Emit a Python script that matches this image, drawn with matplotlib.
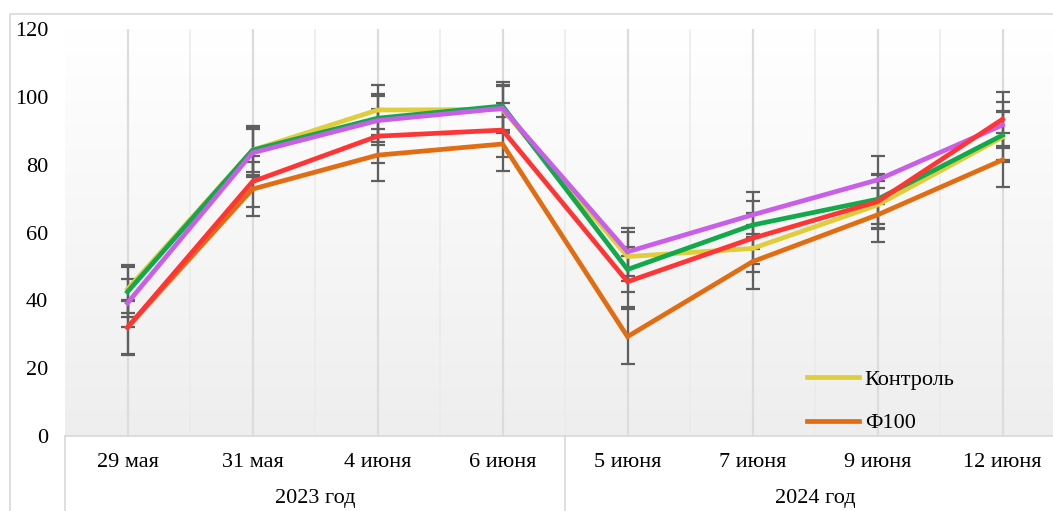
import matplotlib.pyplot as plt
import numpy as np
from matplotlib.patches import Rectangle
import matplotlib.transforms as mtransforms

plt.rcParams['font.family'] = ['Liberation Serif', 'DejaVu Serif']

# Sampling dates, grouped by season
dates = ['29 мая', '31 мая', '4 июня', '6 июня', '5 июня', '7 июня', '9 июня', '12 июня']
years = ['2023 год', '2024 год']

# Series values and their error margins
kontrol = [43.3, 84.3, 96.1, 96.3, 52.9, 55.3, 68.1, 88.1]
kontrol_err = [7.1, 7.2, 7.4, 7.0, 7.3, 7.0, 7.2, 7.3]
f100 = [32.0, 72.8, 82.8, 86.1, 29.3, 51.4, 65.2, 81.4]
f100_err = [8.0, 7.9, 7.6, 8.0, 8.0, 8.2, 8.0, 8.0]
green_vals = [42.5, 84.3, 93.7, 97.3, 49.1, 62.2, 69.8, 88.7]
green_err = [7.4, 6.6, 7.0, 7.0, 6.7, 7.1, 7.4, 7.2]
purple_vals = [39.2, 83.5, 93.0, 96.6, 54.3, 65.2, 75.5, 91.7]
purple_err = [7.0, 7.0, 7.2, 7.0, 7.0, 6.6, 7.1, 6.9]
red_vals = [32.0, 75.0, 88.4, 90.2, 45.5, 58.3, 69.1, 93.4]
red_err = [7.9, 7.6, 8.0, 8.0, 7.6, 7.5, 7.8, 7.9]

series = [
    (kontrol, kontrol_err, '#dfcd3b', 'Контроль', 2),
    (f100, f100_err, '#e26c12', 'Ф100', 3),
    (green_vals, green_err, '#12a84c', None, 4),
    (purple_vals, purple_err, '#c95ee8', None, 5),
    (red_vals, red_err, '#ff3535', None, 6),
]

W, H = 1053, 511
fig = plt.figure(figsize=(W / 100, H / 100), dpi=100)

# chart area border
fig.patches.append(Rectangle((10 / W, -0.1), 1.2, (H - 14) / H + 0.1,
                             transform=fig.transFigure, fill=False,
                             edgecolor='#d9d9d9', lw=1.2, zorder=0))

ax = fig.add_axes([65 / W, (H - 436) / H, 1000 / W, 407 / H])
x = np.arange(len(dates))
ax.set_xlim(-0.5, len(dates) - 0.5)
ax.set_ylim(0, 120)

# soft vertical gradient in the plot area
grad = np.linspace(0, 1, 256).reshape(-1, 1)
ax.imshow(grad, extent=[0, 1, 0, 1], transform=ax.transAxes, aspect='auto',
          cmap=plt.matplotlib.colors.LinearSegmentedColormap.from_list(
              'bg', ['#eeeeee', '#ffffff']), origin='lower', zorder=0)

for xc in x:
    ax.axvline(xc, color='#dcdcdc', lw=1.6, zorder=1)
for xb in np.arange(-0.5, len(dates), 1.0)[1:]:
    ax.axvline(xb, color='#ebebeb', lw=1.2, zorder=1)

for vals, err, color, label, z in series:
    ax.errorbar(x, vals, yerr=err, fmt='none', ecolor='#5f5f5f', elinewidth=1.6,
                capsize=5, capthick=1.6, zorder=1.5)
for vals, err, color, label, z in series:
    ax.plot(x, vals, color=color, lw=3.4, label=label, zorder=z,
            solid_joinstyle='miter')

for side in ['top', 'right', 'left']:
    ax.spines[side].set_visible(False)
ax.spines['bottom'].set_color('#d9d9d9')
ax.spines['bottom'].set_linewidth(1.2)

ax.set_yticks(np.arange(0, 121, 20))
ax.tick_params(axis='y', length=0, pad=12, labelsize=16)
ax.set_xticks(x)
ax.set_xticklabels(dates)
ax.tick_params(axis='x', length=0, pad=12, labelsize=16)

# group labels and separators below the axis
trans = mtransforms.blended_transform_factory(ax.transData, ax.transAxes)
low = -80 / 407
for xs in [-0.5, 3.5, 7.5]:
    ax.plot([xs, xs], [0, low], transform=trans, color='#d9d9d9', lw=1.2,
            clip_on=False)
for i, yl in enumerate(years):
    ax.text(1.5 + 4 * i, -62 / 407, yl, transform=trans, ha='center',
            va='center', fontsize=16)

handles, labels = ax.get_legend_handles_labels()
fig.legend(handles, labels, loc='upper left', bbox_to_anchor=(807 / W, (H - 369) / H),
           frameon=False, fontsize=16, handlelength=2.35, handletextpad=0.25,
           labelspacing=1.05, borderpad=0, borderaxespad=0)

fig.savefig('out.png', dpi=100)
